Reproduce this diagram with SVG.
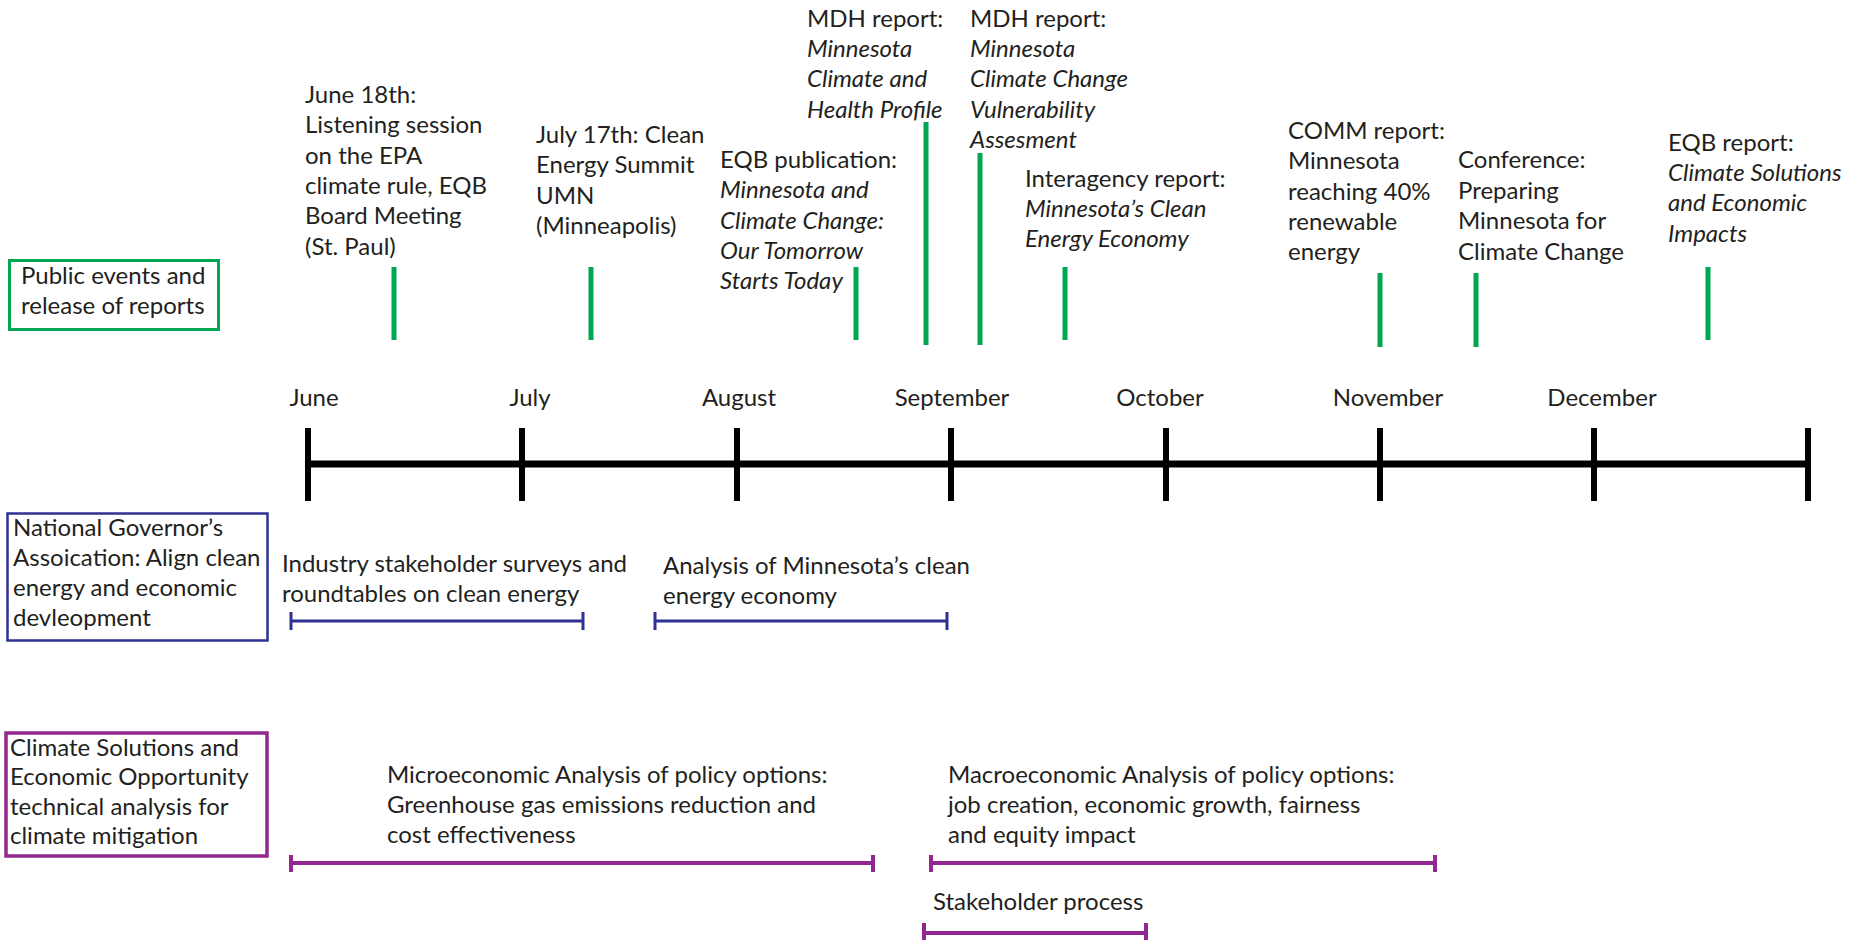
<svg xmlns="http://www.w3.org/2000/svg" width="1852" height="940" viewBox="0 0 1852 940">
<style>
text{font-family:Lato,"Liberation Sans",sans-serif;font-size:24px;fill:#231f20}
.it{font-style:italic}
.ev{stroke:#00a651;stroke-width:5;fill:none}
.ax{stroke:#000;fill:none}
.bl{stroke:#2e3192;stroke-width:3;fill:none}
.pu{stroke:#92278f;stroke-width:4;fill:none}
.mon{text-anchor:middle}
</style>
<rect width="1852" height="940" fill="#fff"/>
<g id="legend-public">
<rect x="9.5" y="260.5" width="209" height="69" fill="none" stroke="#00a651" stroke-width="3"/>
<text x="21" y="284">Public events and<tspan x="21" dy="30">release of reports</tspan></text>
</g>
<g id="legend-nga">
<rect x="7.5" y="513.5" width="260" height="127" fill="none" stroke="#2e3192" stroke-width="2.5"/>
<text x="13" y="536">National Governor’s<tspan x="13" dy="30">Assoication: Align clean</tspan><tspan x="13" dy="30">energy and economic</tspan><tspan x="13" dy="30">devleopment</tspan></text>
</g>
<g id="legend-csep">
<rect x="6" y="733" width="261" height="123" fill="none" stroke="#92278f" stroke-width="3.5"/>
<text x="10" y="756">Climate Solutions and<tspan x="10" dy="29.3">Economic Opportunity</tspan><tspan x="10" dy="29.3">technical analysis for</tspan><tspan x="10" dy="29.3">climate mitigation</tspan></text>
</g>
<g id="timeline">
<line class="ax" x1="308" y1="464" x2="1808" y2="464" stroke-width="7"/>
<path class="ax" stroke-width="6" d="M308 428V501M522 428V501M737 428V501M951 428V501M1166 428V501M1380 428V501M1594 428V501M1808 428V501"/>
<text class="mon" x="314" y="406">June</text>
<text class="mon" x="530" y="406">July</text>
<text class="mon" x="739" y="406">August</text>
<text class="mon" x="952" y="406">September</text>
<text class="mon" x="1160" y="406">October</text>
<text class="mon" x="1388" y="406">November</text>
<text class="mon" x="1602" y="406">December</text>
</g>
<g id="event-june18">
<text x="305" y="103">June 18th:<tspan x="305" dy="30.3">Listening session</tspan><tspan x="305" dy="30.3">on the EPA</tspan><tspan x="305" dy="30.3">climate rule, EQB</tspan><tspan x="305" dy="30.3">Board Meeting</tspan><tspan x="305" dy="30.3">(St. Paul)</tspan></text>
</g>
<g id="event-july17">
<text x="536" y="143">July 17th: Clean<tspan x="536" dy="30.3">Energy Summit</tspan><tspan x="536" dy="30.3">UMN</tspan><tspan x="536" dy="30.3">(Minneapolis)</tspan></text>
</g>
<g id="event-eqb-pub">
<text x="720" y="168">EQB publication:<tspan class="it" x="720" dy="30.3">Minnesota and</tspan><tspan class="it" x="720" dy="30.3">Climate Change:</tspan><tspan class="it" x="720" dy="30.3">Our Tomorrow</tspan><tspan class="it" x="720" dy="30.3">Starts Today</tspan></text>
</g>
<g id="event-mdh-health">
<text x="807" y="27">MDH report:<tspan class="it" x="807" dy="30.2">Minnesota</tspan><tspan class="it" x="807" dy="30.2">Climate and</tspan><tspan class="it" x="807" dy="30.2">Health Profile</tspan></text>
</g>
<g id="event-mdh-vuln">
<text x="970" y="27">MDH report:<tspan class="it" x="970" dy="30.2">Minnesota</tspan><tspan class="it" x="970" dy="30.2">Climate Change</tspan><tspan class="it" x="970" dy="30.2">Vulnerability</tspan><tspan class="it" x="970" dy="30.2">Assesment</tspan></text>
</g>
<g id="event-interagency">
<text x="1025" y="187">Interagency report:<tspan class="it" x="1025" dy="30.2">Minnesota’s Clean</tspan><tspan class="it" x="1025" dy="30.2">Energy Economy</tspan></text>
</g>
<g id="event-comm">
<text x="1288" y="139">COMM report:<tspan x="1288" dy="30.3">Minnesota</tspan><tspan x="1288" dy="30.3">reaching 40%</tspan><tspan x="1288" dy="30.3">renewable</tspan><tspan x="1288" dy="30.3">energy</tspan></text>
</g>
<g id="event-conference">
<text x="1458" y="168">Conference:<tspan x="1458" dy="30.5">Preparing</tspan><tspan x="1458" dy="30.5">Minnesota for</tspan><tspan x="1458" dy="30.5">Climate Change</tspan></text>
</g>
<g id="event-eqb-report">
<text x="1668" y="151">EQB report:<tspan class="it" x="1668" dy="30.2">Climate Solutions</tspan><tspan class="it" x="1668" dy="30.2">and Economic</tspan><tspan class="it" x="1668" dy="30.2">Impacts</tspan></text>
</g>
<g id="nga-surveys">
<text x="282" y="572">Industry stakeholder surveys and<tspan x="282" dy="30">roundtables on clean energy</tspan></text>
</g>
<g id="nga-analysis">
<text x="663" y="574">Analysis of Minnesota’s clean<tspan x="663" dy="30">energy economy</tspan></text>
</g>
<g id="csep-micro">
<text x="387" y="783">Microeconomic Analysis of policy options:<tspan x="387" dy="30">Greenhouse gas emissions reduction and</tspan><tspan x="387" dy="30">cost effectiveness</tspan></text>
</g>
<g id="csep-macro">
<text x="948" y="783">Macroeconomic Analysis of policy options:<tspan x="948" dy="30">job creation, economic growth, fairness</tspan><tspan x="948" dy="30">and equity impact</tspan></text>
</g>
<g id="csep-stakeholder">
<text x="933" y="910">Stakeholder process</text>
</g>
<g id="connectors">
<path class="ev" d="M394 267V340M591 267V340M856 267V340M926 122V345M980 153V345M1065 267V340M1380 273V347M1476 273V347M1708 267V340"/>
<path class="bl" d="M291 621H583M291 612V630M583 612V630M655 621H947M655 612V630M947 612V630"/>
<path class="pu" d="M291 863H873M291 855V872M873 855V872M931 863H1435M931 855V872M1435 855V872M924 933H1146M924 923V941M1146 923V941"/>
</g>
</svg>
